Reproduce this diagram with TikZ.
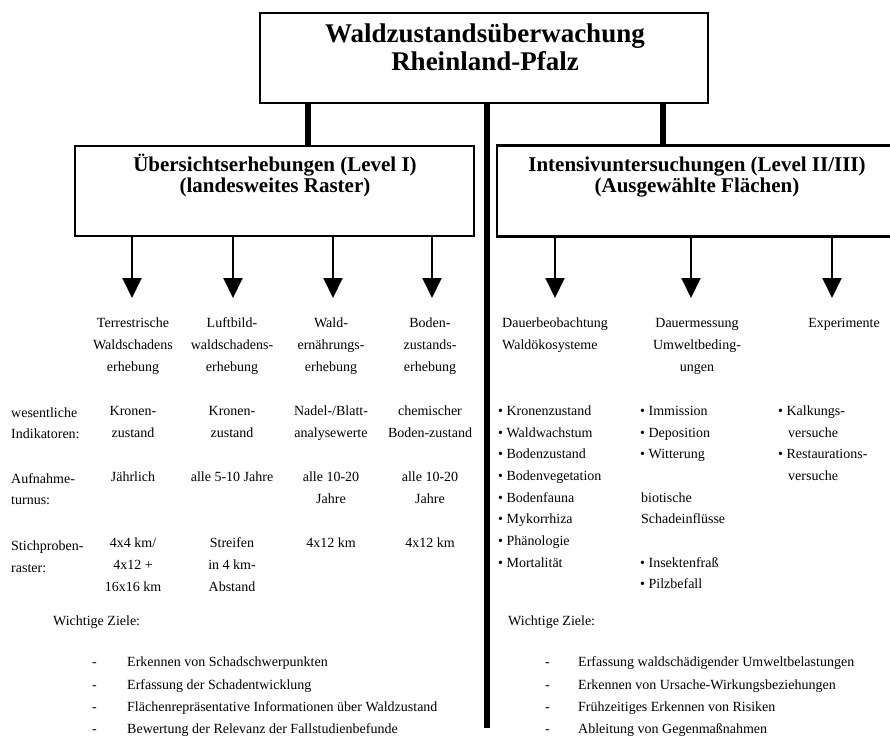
\documentclass[tikz,border=0pt]{standalone}
\usepackage{fontspec}
\setmainfont{Liberation Serif}
\usetikzlibrary{arrows.meta}
\newcounter{tn}
\tikzset{
  frame/.style={draw, line width=2.6pt, inner sep=0pt},
  conn/.style={line width=5.5pt},
  arr/.style={line width=2pt, -{Triangle[width=19pt,length=20pt]}},
  txt/.style={inner sep=0pt, font=\fontsize{14}{17}\selectfont},
  ttl/.style={inner sep=0pt, font=\bfseries\fontsize{27}{28}\selectfont},
  hdr/.style={inner sep=0pt, font=\bfseries\fontsize{21}{22}\selectfont},
}
\newcommand\Tx[4]{\stepcounter{tn}\node[txt,anchor=#1] (t\thetn) at (#2,#3) {#4};}
\begin{document}
\begin{tikzpicture}[x=1pt,y=-1pt]
\useasboundingbox (0,0) rectangle (890,735);
\clip (0,0) rectangle (890,735);
% boxes
\node[frame, minimum width=448pt, minimum height=90pt] (top) at (484,58) {};
\node[frame, minimum width=399pt, minimum height=90pt] (lbox) at (274.5,191) {};
\node[frame, minimum width=400pt, minimum height=91pt] (rbox) at (697,191) {};
% box texts
\node[ttl, anchor=base] (title1) at (485,43) {Waldzustandsüberwachung};
\node[ttl, anchor=base] (title2) at (485,71) {Rheinland-Pfalz};
\node[hdr, anchor=base] (lh1) at (275,172) {Übersichtserhebungen (Level I)};
\node[hdr, anchor=base] (lh2) at (275,193) {(landesweites Raster)};
\node[hdr, anchor=base] (rh1) at (697,172) {Intensivuntersuchungen (Level II/III)};
\node[hdr, anchor=base] (rh2) at (697,193) {(Ausgewählte Flächen)};
% connectors
\coordinate (cL) at (308,0);
\coordinate (cR) at (663,0);
\coordinate (cM) at (487,728);
\draw[conn] (top.south -| cL) -- (lbox.north -| cL);
\draw[conn] (top.south -| cR) -- (rbox.north -| cR);
\draw[conn] (top.south -| cM) -- (cM);
% arrows
\coordinate (a1) at (132,298);
\coordinate (a2) at (233,298);
\coordinate (a3) at (333,298);
\coordinate (a4) at (432,298);
\coordinate (a5) at (555,298);
\coordinate (a6) at (691,298);
\coordinate (a7) at (832,298);
\foreach \a in {a1,a2,a3,a4} \draw[arr] (lbox.south -| \a) -- (\a);
\foreach \a in {a5,a6,a7} \draw[arr] (rbox.south -| \a) -- (\a);
% left columns
\Tx{base}{133}{327}{Terrestrische}
\Tx{base}{133}{349}{Waldschadens}
\Tx{base}{133}{371}{erhebung}
\Tx{base}{232}{327}{Luftbild-}
\Tx{base}{232}{349}{waldschadens-}
\Tx{base}{232}{371}{erhebung}
\Tx{base}{331}{327}{Wald-}
\Tx{base}{331}{349}{ernährungs-}
\Tx{base}{331}{371}{erhebung}
\Tx{base}{430}{327}{Boden-}
\Tx{base}{430}{349}{zustands-}
\Tx{base}{430}{371}{erhebung}
\Tx{base west}{11}{417}{wesentliche}
\Tx{base west}{11}{438}{Indikatoren:}
\Tx{base}{133}{415}{Kronen-}
\Tx{base}{133}{437}{zustand}
\Tx{base}{232}{415}{Kronen-}
\Tx{base}{232}{437}{zustand}
\Tx{base}{331}{415}{Nadel-/Blatt-}
\Tx{base}{331}{437}{analysewerte}
\Tx{base}{430}{415}{chemischer}
\Tx{base}{430}{437}{Boden-zustand}
\Tx{base west}{11}{483}{Aufnahme-}
\Tx{base west}{11}{504}{turnus:}
\Tx{base}{133}{481}{Jährlich}
\Tx{base}{232}{481}{alle 5-10 Jahre}
\Tx{base}{331}{481}{alle 10-20}
\Tx{base}{331}{503}{Jahre}
\Tx{base}{430}{481}{alle 10-20}
\Tx{base}{430}{503}{Jahre}
\Tx{base west}{11}{550}{Stichproben-}
\Tx{base west}{11}{572}{raster:}
\Tx{base}{133}{547}{4x4 km/}
\Tx{base}{133}{569}{4x12 +}
\Tx{base}{133}{591}{16x16 km}
\Tx{base}{232}{547}{Streifen}
\Tx{base}{232}{569}{in 4 km-}
\Tx{base}{232}{591}{Abstand}
\Tx{base}{331}{547}{4x12 km}
\Tx{base}{430}{547}{4x12 km}
% right columns
\Tx{base west}{502}{327}{Dauerbeobachtung}
\Tx{base west}{502}{349}{Waldökosysteme}
\Tx{base}{697}{327}{Dauermessung}
\Tx{base}{697}{349}{Umweltbeding-}
\Tx{base}{697}{371}{ungen}
\Tx{base}{844}{327}{Experimente}
\Tx{base west}{498}{415}{• Kronenzustand}
\Tx{base west}{498}{437}{• Waldwachstum}
\Tx{base west}{498}{458}{• Bodenzustand}
\Tx{base west}{498}{480}{• Bodenvegetation}
\Tx{base west}{498}{502}{• Bodenfauna}
\Tx{base west}{498}{523}{• Mykorrhiza}
\Tx{base west}{498}{545}{• Phänologie}
\Tx{base west}{498}{567}{• Mortalität}
\Tx{base west}{640}{415}{• Immission}
\Tx{base west}{640}{437}{• Deposition}
\Tx{base west}{640}{458}{• Witterung}
\Tx{base west}{641}{502}{biotische}
\Tx{base west}{641}{523}{Schadeinflüsse}
\Tx{base west}{640}{567}{• Insektenfraß}
\Tx{base west}{640}{588}{• Pilzbefall}
\Tx{base west}{778}{415}{• Kalkungs-}
\Tx{base west}{788}{437}{versuche}
\Tx{base west}{778}{458}{• Restaurations-}
\Tx{base west}{788}{480}{versuche}
% bottom lists
\Tx{base west}{53}{625}{Wichtige Ziele:}
\Tx{base west}{92}{666}{-}
\Tx{base west}{92}{689}{-}
\Tx{base west}{92}{711}{-}
\Tx{base west}{92}{733}{-}
\Tx{base west}{127}{666}{Erkennen von Schadschwerpunkten}
\Tx{base west}{127}{689}{Erfassung der Schadentwicklung}
\Tx{base west}{127}{711}{Flächenrepräsentative Informationen über Waldzustand}
\Tx{base west}{127}{733}{Bewertung der Relevanz der Fallstudienbefunde}
\Tx{base west}{508}{625}{Wichtige Ziele:}
\Tx{base west}{545}{666}{-}
\Tx{base west}{545}{689}{-}
\Tx{base west}{545}{711}{-}
\Tx{base west}{545}{733}{-}
\Tx{base west}{578}{666}{Erfassung waldschädigender Umweltbelastungen}
\Tx{base west}{578}{689}{Erkennen von Ursache-Wirkungsbeziehungen}
\Tx{base west}{578}{711}{Frühzeitiges Erkennen von Risiken}
\Tx{base west}{578}{733}{Ableitung von Gegenmaßnahmen}
\end{tikzpicture}
\end{document}
